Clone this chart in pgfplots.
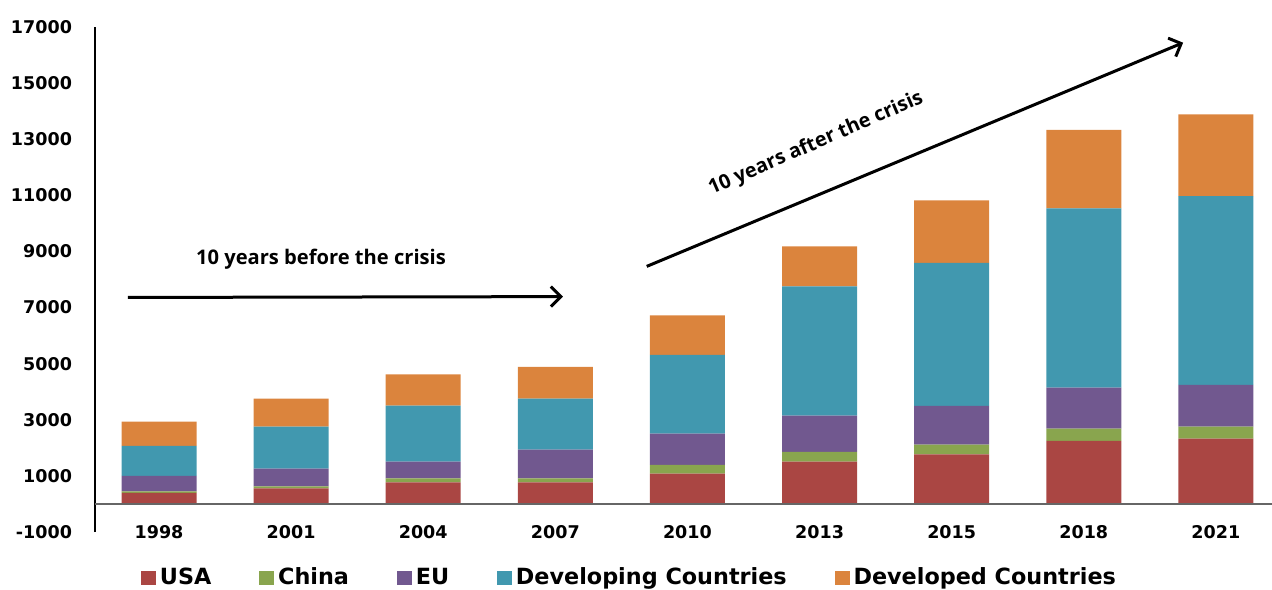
\documentclass[border=0pt]{standalone}
\usepackage{fontspec}
\setmainfont{DejaVu Sans}
\newfontfamily\osans{Open Sans}
\usepackage{pgfplots}
\usepackage{pgfplotstable}
\pgfplotsset{compat=1.18}
\usetikzlibrary{arrows.meta}
\definecolor{cUSA}{HTML}{AA4643}
\definecolor{cChina}{HTML}{89A54E}
\definecolor{cEU}{HTML}{71588F}
\definecolor{cDev}{HTML}{4198AF}
\definecolor{cDevd}{HTML}{DB843D}
\pgfplotstableread{
x USA China EU Dev Devd
0 392 57 549 1069 866
1 556 71 631 1497 998
2 770 142 595 1996 1116
3 770 142 1023 1818 1129
4 1080 310 1115 2805 1411
5 1507 346 1294 4608 1425
6 1768 345 1379 5097 2231
7 2245 439 1461 6390 2794
8 2327 428 1486 6735 2908
}\data
\begin{document}
\begin{tikzpicture}
\useasboundingbox (0,0) rectangle (636bp,295bp);
\begin{axis}[
  at={(47.5bp,29bp)}, anchor=south west,
  scale only axis, width=588.5bp, height=252.5bp,
  ybar stacked, bar width=37.5bp,
  xmin=-0.4845, xmax=8.425, ymin=-1000, ymax=17000,
  xtick=data,
  xticklabels={1998,2001,2004,2007,2010,2013,2015,2018,2021},
  ytick={-1000,1000,3000,5000,7000,9000,11000,13000,15000,17000},
  scaled y ticks=false,
  major tick length=0pt,
  axis x line*=bottom, x axis line style={draw=none},
  axis y line*=left, y axis line style={black, line width=0.6bp},
  /pgf/number format/assume math mode=true,
  /pgf/number format/1000 sep={},
  ticklabel style={font=\fontsize{8.8}{10}\selectfont\bfseries},
  yticklabel style={xshift=-8bp},
  xticklabel style={anchor=center, yshift=0bp},
  legend style={draw=none, at={(0.455,-0.091)}, anchor=center,
    legend columns=-1, font=\fontsize{11.2}{13}\selectfont\bfseries,
    /tikz/every even column/.append style={column sep=22bp},
    inner sep=0pt},
  legend image code/.code={\fill[#1] (0bp,-3.7bp) rectangle (7.4bp,3.7bp);},
  clip=false,
]
\draw[color=black!60, line width=1bp] (axis cs:-0.4845,0) -- (axis cs:8.425,0);
\addplot[fill=cUSA, draw=none] table[x=x,y=USA]{\data};
\addplot[fill=cChina, draw=none] table[x=x,y=China]{\data};
\addplot[fill=cEU, draw=none] table[x=x,y=EU]{\data};
\addplot[fill=cDev, draw=none] table[x=x,y=Dev]{\data};
\addplot[fill=cDevd, draw=none] table[x=x,y=Devd]{\data};
\legend{USA,China,EU,Developing Countries,Developed Countries}
\draw[line width=1.5bp, -{Straight Barb[length=5bp,width=10bp,line width=1.5bp]}] (axis cs:-0.235,7360) -- (axis cs:3.058,7390);
\node[font=\osans\fontsize{10.1}{12}\selectfont\bfseries] at (axis cs:1.226,8706) {10 years before the crisis};
\draw[line width=1.5bp, -{Straight Barb[length=5bp,width=10bp,line width=1.5bp]}] (axis cs:3.692,8467) -- (axis cs:7.752,16440);
\node[font=\osans\fontsize{10}{12}\selectfont\bfseries, rotate=23.5] at (axis cs:4.973,12840) {10 years after the crisis};
\end{axis}
\end{tikzpicture}
\end{document}
